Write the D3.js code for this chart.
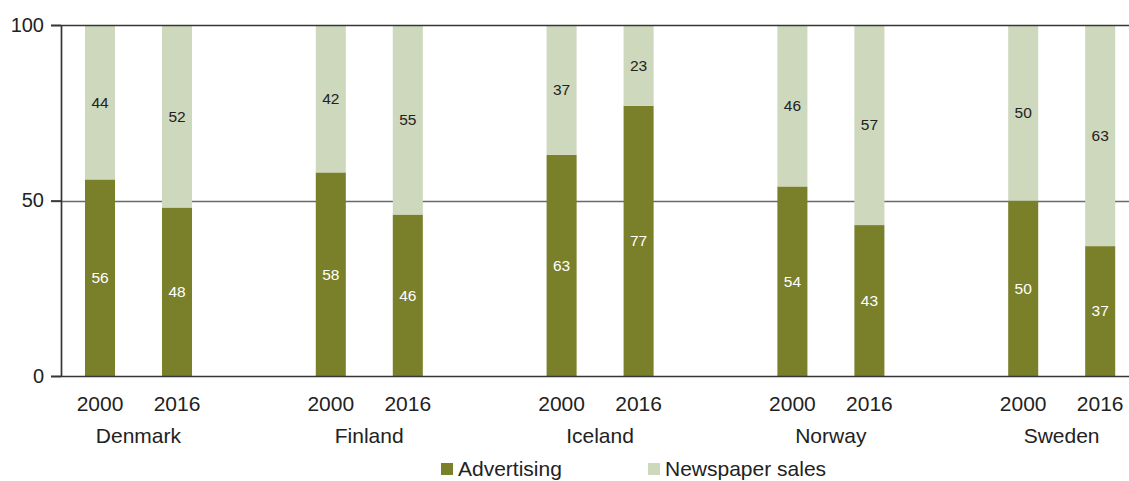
<!DOCTYPE html>
<html>
<head>
<meta charset="utf-8">
<script src="https://cdn.jsdelivr.net/npm/d3@7"></script>
<style>
  html, body { margin: 0; padding: 0; background: #fff; }
  svg { display: block; font-family: "Liberation Sans", Arial, Helvetica, sans-serif; }
</style>
</head>
<body>
<svg id="chart" width="1129" height="481"></svg>
<script>
// Revenue shares (%) of Nordic newspapers, 2000 vs 2016
const countries = ["Denmark", "Finland", "Iceland", "Norway", "Sweden"];
const years = ["2000", "2016"];
const advertising = [56, 48, 58, 46, 63, 77, 54, 43, 50, 37];
const newspaperSales = [44, 52, 42, 55, 37, 23, 46, 57, 50, 63];
const yTicks = [0, 50, 100];
const seriesNames = ["Advertising", "Newspaper sales"];
const seriesColors = ["#7a7f2a", "#cdd8bd"];

const rows = [];
countries.forEach((c, i) => {
  years.forEach((yr, j) => {
    const k = i * years.length + j;
    rows.push({ country: c, year: yr, adv: advertising[k], sales: newspaperSales[k] });
  });
});

const svg = d3.select("#chart");
const W = 1129;
const axisX = 61;

const y = d3.scaleLinear().domain([0, 100]).range([376, 25]);
const xGroup = d3.scaleBand().domain(countries).range([23, 1177]);
const xYear = d3.scaleBand().domain(years)
  .range([38.5, 192.5]).paddingInner(0.61).paddingOuter(0.305);

// Gridline at 50
svg.append("line")
  .attr("x1", 51).attr("x2", W)
  .attr("y1", Math.round(y(50)) + 0.5).attr("y2", Math.round(y(50)) + 0.5)
  .attr("stroke", "#6a6a6a").attr("stroke-width", 1.3);

// Stacked bars (shares are capped at the 100 % line)
const barG = svg.append("g");
const bx = d => xGroup(d.country) + xYear(d.year);
const stackTop = d => Math.min(100, d.adv + d.sales);
barG.selectAll("rect.adv").data(rows).join("rect")
  .attr("class", "adv")
  .attr("x", bx).attr("width", xYear.bandwidth())
  .attr("y", d => y(d.adv)).attr("height", d => y(0) - y(d.adv))
  .attr("fill", seriesColors[0]);
barG.selectAll("rect.sales").data(rows).join("rect")
  .attr("class", "sales")
  .attr("x", bx).attr("width", xYear.bandwidth())
  .attr("y", d => y(stackTop(d))).attr("height", d => y(d.adv) - y(stackTop(d)))
  .attr("fill", seriesColors[1]);

// Top and baseline rules drawn over the bars
svg.append("g").selectAll("line").data([0, 100]).join("line")
  .attr("x1", 51).attr("x2", W)
  .attr("y1", d => Math.round(y(d)) + 0.5).attr("y2", d => Math.round(y(d)) + 0.5)
  .attr("stroke", "#363636").attr("stroke-width", 1.7);

// Value labels
const cx = d => bx(d) + xYear.bandwidth() / 2;
barG.selectAll("text.advLbl").data(rows).join("text")
  .attr("x", cx).attr("y", d => y(d.adv / 2))
  .attr("dy", "0.35em").attr("text-anchor", "middle")
  .attr("font-size", 15.5).attr("fill", "#fff")
  .text(d => d.adv);
barG.selectAll("text.salesLbl").data(rows).join("text")
  .attr("x", cx).attr("y", d => y((d.adv + stackTop(d)) / 2))
  .attr("dy", "0.35em").attr("text-anchor", "middle")
  .attr("font-size", 15.5).attr("fill", "#222")
  .text(d => d.sales);

// Y axis
const yAxis = d3.axisLeft(y).tickValues(yTicks).tickSize(10).tickPadding(7);
const ya = svg.append("g").attr("transform", `translate(${axisX},0)`).call(yAxis);
ya.select(".domain").attr("stroke", "#363636").attr("stroke-width", 1.7).attr("d", `M0.5,${y(100)}V${y(0)}`);
ya.selectAll(".tick line").attr("stroke", "#363636").attr("stroke-width", 1.7);
ya.selectAll(".tick text").attr("font-size", 20).attr("fill", "#222")
  .attr("font-family", "Liberation Sans, Arial, sans-serif");

// Year and country labels
svg.append("g").selectAll("text").data(rows).join("text")
  .attr("x", cx).attr("y", 404).attr("dy", "0.35em")
  .attr("text-anchor", "middle").attr("font-size", 21).attr("fill", "#222")
  .text(d => d.year);
svg.append("g").selectAll("text").data(countries).join("text")
  .attr("x", d => xGroup(d) + xGroup.bandwidth() / 2).attr("y", 436).attr("dy", "0.35em")
  .attr("text-anchor", "middle").attr("font-size", 21).attr("fill", "#222")
  .text(d => d);

// Legend
const legendX = [441, 648];
const lg = svg.append("g").selectAll("g").data(seriesNames).join("g")
  .attr("transform", (d, i) => `translate(${legendX[i]},469)`);
lg.append("rect").attr("x", 0).attr("y", -6).attr("width", 12).attr("height", 12)
  .attr("fill", (d, i) => seriesColors[i]);
lg.append("text").attr("x", 17).attr("dy", "0.35em")
  .attr("font-size", 21).attr("fill", "#222").text(d => d);
</script>
</body>
</html>
